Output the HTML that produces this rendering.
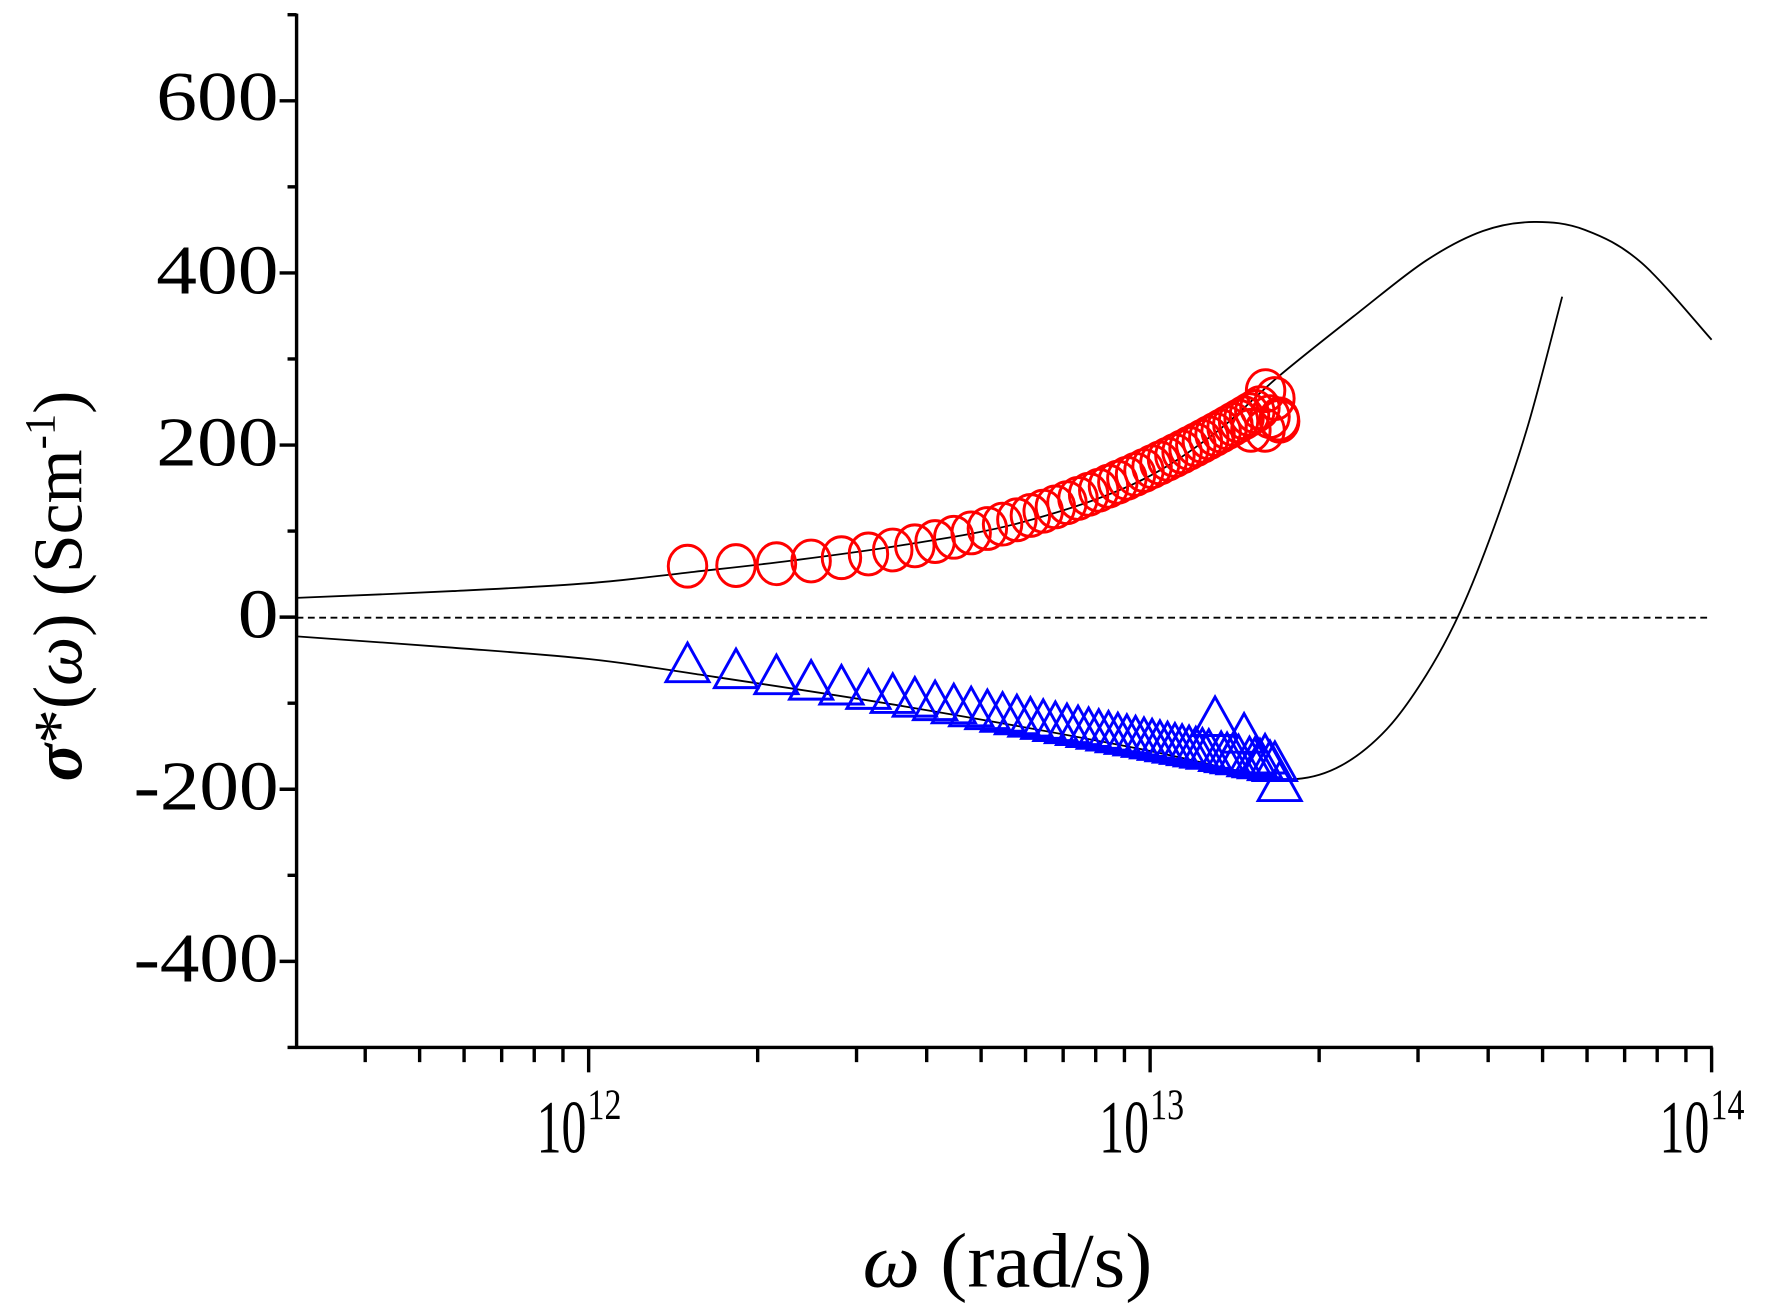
<!DOCTYPE html>
<html><head><meta charset="utf-8"><style>
html,body{margin:0;padding:0;background:#fff}
svg{display:block}
text{font-family:"Liberation Serif",serif;fill:#000}
</style></head><body>
<svg id="s" width="1775" height="1309" viewBox="0 0 1568 1156" preserveAspectRatio="none" xmlns="http://www.w3.org/2000/svg">
<rect width="1568" height="1156" fill="#fff"/>
<line x1="262" y1="12" x2="262" y2="926" stroke="#000" stroke-width="3"/>
<line x1="261" y1="925" x2="1513" y2="925" stroke="#000" stroke-width="3"/>
<g id="ticks" stroke="#000" stroke-width="3"></g>
<line x1="262" y1="545.5" x2="1512" y2="545.5" stroke="#000" stroke-width="1.6" stroke-dasharray="6,4"/>
<path id="c1" fill="none" stroke="#000" stroke-width="1.6"/>
<path id="c2" fill="none" stroke="#000" stroke-width="1.6"/>
<g id="m"></g>
<g font-size="62" text-anchor="end">
<text x="246" y="106" textLength="108" lengthAdjust="spacingAndGlyphs">600</text>
<text x="246" y="259" textLength="108" lengthAdjust="spacingAndGlyphs">400</text>
<text x="246" y="411" textLength="108" lengthAdjust="spacingAndGlyphs">200</text>
<text x="246" y="563" textLength="36" lengthAdjust="spacingAndGlyphs">0</text>
<text x="246" y="715" textLength="128" lengthAdjust="spacingAndGlyphs">-200</text>
<text x="246" y="867" textLength="128" lengthAdjust="spacingAndGlyphs">-400</text>
</g>
<g font-size="66">
<text x="474" y="1018" textLength="44" lengthAdjust="spacingAndGlyphs">10</text>
<text x="519" y="988" font-size="38" textLength="30" lengthAdjust="spacingAndGlyphs">12</text>
<text x="971" y="1018" textLength="44" lengthAdjust="spacingAndGlyphs">10</text>
<text x="1016" y="988" font-size="38" textLength="30" lengthAdjust="spacingAndGlyphs">13</text>
<text x="1466" y="1018" textLength="44" lengthAdjust="spacingAndGlyphs">10</text>
<text x="1511" y="988" font-size="38" textLength="30" lengthAdjust="spacingAndGlyphs">14</text>
</g>
<text x="762" y="1136" font-size="68" textLength="256" lengthAdjust="spacingAndGlyphs"><tspan font-style="italic">ω</tspan> (rad/s)</text>
<text transform="translate(72,690) rotate(-90)" font-size="62" textLength="345" lengthAdjust="spacingAndGlyphs"><tspan font-style="italic" font-weight="bold">σ</tspan>*(<tspan font-style="italic">ω</tspan>) (Scm<tspan font-size="38" dy="-24">-1</tspan><tspan dy="24">)</tspan></text>
</svg>
<script>
var NS="http://www.w3.org/2000/svg";
function el(p,t,a){var e=document.createElementNS(NS,t);for(var k in a)e.setAttribute(k,a[k]);p.appendChild(e);return e;}
function cr(P){var d='M'+P[0][0]+','+P[0][1];for(var i=0;i<P.length-1;i++){var p0=P[Math.max(i-1,0)],p1=P[i],p2=P[i+1],p3=P[Math.min(i+2,P.length-1)];
d+=' C'+(p1[0]+(p2[0]-p0[0])/6)+','+(p1[1]+(p2[1]-p0[1])/6)+' '+(p2[0]-(p3[0]-p1[0])/6)+','+(p2[1]-(p3[1]-p1[1])/6)+' '+p2[0]+','+p2[1];}return d;}
document.getElementById('c1').setAttribute('d',cr([[262,528],[400,522],[520,515],[613,505],[700,495],[800,481],[900,462],[1000,428],[1070,385],[1130,332],[1200,276],[1260,230],[1310,204],[1355,196],[1400,203],[1450,232],[1512,300]]));
document.getElementById('c2').setAttribute('d',cr([[262,562],[400,572],[520,582],[613,595],[800,624],[1000,660],[1100,682],[1145,688],[1185,676],[1225,644],[1260,596],[1290,540],[1320,465],[1350,375],[1380,262]]));
var T=document.getElementById('ticks');
for(var v=-500;v<=700;v+=100){var y=545-v*0.76;var maj=(v%200==0);el(T,'line',{x1:maj?247:254,y1:y,x2:262,y2:y});}
function X(w){return 520+496*Math.log10(w/1e12);}
for(var d=11;d<=13;d++){for(var k=1;k<10;k++){var w=k*Math.pow(10,d);var x=X(w);if(x<261||x>1513)continue;el(T,'line',{x1:x,y1:925,x2:x,y2:k==1?947:938});}}
el(T,'line',{x1:1512,y1:925,x2:1512,y2:947});
var M=document.getElementById('m');
var xs=[];for(var i=0;i<48;i++){xs.push(X(1.5e12+i*0.33e12));}
xs.forEach(function(x,i){var t=(x-610)/520;var b=602+88*Math.pow(Math.max(t,0),1.1);
 if(i==35)b-=30; if(i==40)b-=20; if(i==44)b-=5; if(i==47)b=707;
 el(M,'polygon',{points:(x-19)+','+b+' '+x+','+(b-34)+' '+(x+19)+','+b,fill:'none',stroke:'#0000ff','stroke-width':2.6});});
xs.forEach(function(x,i){var t=(x-610)/520;var y=500-150*Math.pow(Math.max(t,0),2.2);
 if(i==46)y=352;if(i==45)y=368;if(i==44)y=380;if(i==47)y=372;if(i==43)y=360;
 el(M,'ellipse',{cx:x,cy:y,rx:17,ry:18.5,fill:'none',stroke:'#ff0000','stroke-width':2.6});});
el(M,'ellipse',{cx:1118,cy:345,rx:17,ry:18.5,fill:'none',stroke:'#ff0000','stroke-width':2.6});
el(M,'ellipse',{cx:1130,cy:370,rx:17,ry:18.5,fill:'none',stroke:'#ff0000','stroke-width':2.6});
el(M,'ellipse',{cx:1105,cy:380,rx:17,ry:18.5,fill:'none',stroke:'#ff0000','stroke-width':2.6});
</script>
</body></html>
